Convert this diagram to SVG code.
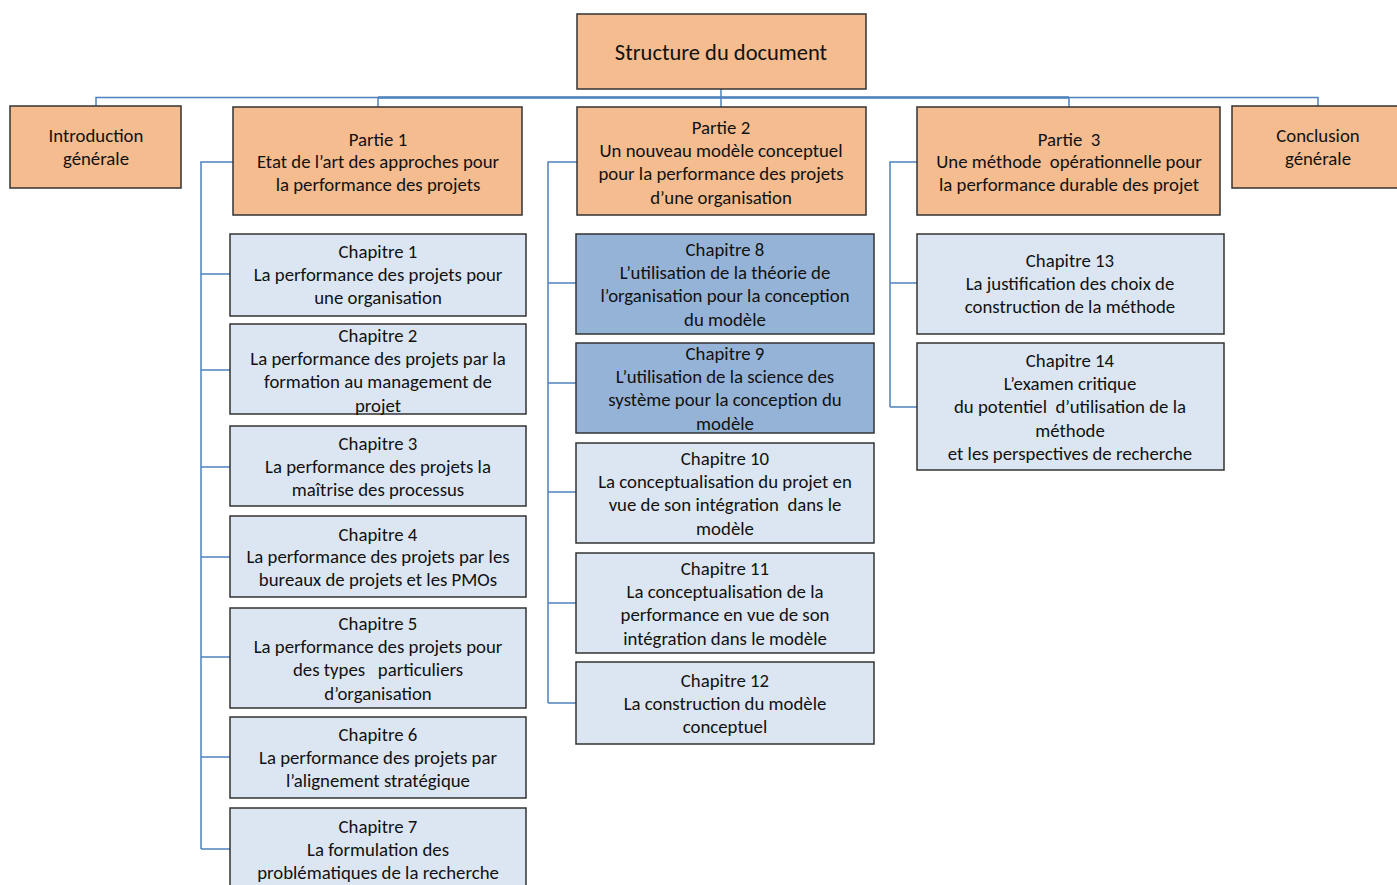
<svg xmlns="http://www.w3.org/2000/svg" width="1397" height="885" viewBox="0 0 1397 885">
<style>
.o{fill:#F4BC8F;stroke:#333;stroke-width:1.5}
.l{fill:#DCE6F2;stroke:#333;stroke-width:1.5}
.d{fill:#95B3D7;stroke:#333;stroke-width:1.5}
text{font-family:Carlito,Lato,"Liberation Sans",sans-serif;font-size:18.8px;fill:#111;text-anchor:middle;white-space:pre}
.c{fill:none;stroke:#4F81BD;stroke-width:1.5}
</style>
<rect width="1397" height="885" fill="#fff"/>
<g id="connectors">
<path class="c" d="M721,89V97.5M96,106V97.5H1318V106M378,97.5V107M721,97.5V107M1069,97.5V107"/>
<path class="c" style="stroke-width:2.5" d="M378,97.5H1069"/>
<path class="c" d="M233,162H201V849M201,274H230M201,370H230M201,467H230M201,557H230M201,657H230M201,757H230M201,849H230"/>
<path class="c" d="M577,162H548V703M548,283H576M548,383H576M548,492H576M548,603H576M548,703H576"/>
<path class="c" d="M917,162H890V407M890,283H917M890,407H917"/>
</g>
<g id="root"><rect class="o" x="577" y="14" width="289" height="75"/><text x="721" y="60" style="font-size:22.5px">Structure du document</text></g>
<g id="intro"><rect class="o" x="10" y="106" width="171" height="82"/><text x="96" y="142">Introduction</text><text x="96" y="165">générale</text></g>
<g id="partie1"><rect class="o" x="233" y="107" width="289" height="108"/><text x="378" y="146">Partie 1</text><text x="378" y="168">Etat de l’art des approches pour</text><text x="378" y="191">la performance des projets</text></g>
<g id="partie2"><rect class="o" x="577" y="107" width="289" height="108"/><text x="721" y="134">Partie 2</text><text x="721" y="157">Un nouveau modèle conceptuel</text><text x="721" y="180">pour la performance des projets</text><text x="721" y="204">d’une organisation</text></g>
<g id="partie3"><rect class="o" x="917" y="107" width="303" height="108"/><text x="1069" y="146">Partie  3</text><text x="1069" y="168">Une méthode  opérationnelle pour</text><text x="1069" y="191">la performance durable des projet</text></g>
<g id="conclusion"><rect class="o" x="1232" y="106" width="172" height="82"/><text x="1318" y="142">Conclusion</text><text x="1318" y="165">générale</text></g>
<g id="ch1"><rect class="l" x="230" y="234" width="296" height="82"/><text x="378" y="258">Chapitre 1</text><text x="378" y="281">La performance des projets pour</text><text x="378" y="304">une organisation</text></g>
<g id="ch2"><rect class="l" x="230" y="324" width="296" height="90"/><text x="378" y="342">Chapitre 2</text><text x="378" y="365">La performance des projets par la</text><text x="378" y="388">formation au management de</text><text x="378" y="412">projet</text></g>
<g id="ch3"><rect class="l" x="230" y="426" width="296" height="80"/><text x="378" y="450">Chapitre 3</text><text x="378" y="473">La performance des projets la</text><text x="378" y="496">maîtrise des processus</text></g>
<g id="ch4"><rect class="l" x="230" y="516" width="296" height="81"/><text x="378" y="541">Chapitre 4</text><text x="378" y="563">La performance des projets par les</text><text x="378" y="586">bureaux de projets et les PMOs</text></g>
<g id="ch5"><rect class="l" x="230" y="608" width="296" height="100"/><text x="378" y="630">Chapitre 5</text><text x="378" y="653">La performance des projets pour</text><text x="378" y="676">des types   particuliers</text><text x="378" y="700">d’organisation</text></g>
<g id="ch6"><rect class="l" x="230" y="717" width="296" height="81"/><text x="378" y="741">Chapitre 6</text><text x="378" y="764">La performance des projets par</text><text x="378" y="787">l’alignement stratégique</text></g>
<g id="ch7"><rect class="l" x="230" y="808" width="296" height="90"/><text x="378" y="833">Chapitre 7</text><text x="378" y="856">La formulation des</text><text x="378" y="879">problématiques de la recherche</text></g>
<g id="ch8"><rect class="d" x="576" y="234" width="298" height="100"/><text x="725" y="256">Chapitre 8</text><text x="725" y="279">L’utilisation de la théorie de</text><text x="725" y="302">l’organisation pour la conception</text><text x="725" y="326">du modèle</text></g>
<g id="ch9"><rect class="d" x="576" y="343" width="298" height="90"/><text x="725" y="360">Chapitre 9</text><text x="725" y="383">L’utilisation de la science des</text><text x="725" y="406">système pour la conception du</text><text x="725" y="430">modèle</text></g>
<g id="ch10"><rect class="l" x="576" y="443" width="298" height="100"/><text x="725" y="465">Chapitre 10</text><text x="725" y="488">La conceptualisation du projet en</text><text x="725" y="511">vue de son intégration  dans le</text><text x="725" y="535">modèle</text></g>
<g id="ch11"><rect class="l" x="576" y="553" width="298" height="100"/><text x="725" y="575">Chapitre 11</text><text x="725" y="598">La conceptualisation de la</text><text x="725" y="621">performance en vue de son</text><text x="725" y="645">intégration dans le modèle</text></g>
<g id="ch12"><rect class="l" x="576" y="662" width="298" height="82"/><text x="725" y="687">Chapitre 12</text><text x="725" y="710">La construction du modèle</text><text x="725" y="733">conceptuel</text></g>
<g id="ch13"><rect class="l" x="917" y="234" width="307" height="100"/><text x="1070" y="267">Chapitre 13</text><text x="1070" y="290">La justification des choix de</text><text x="1070" y="313">construction de la méthode</text></g>
<g id="ch14"><rect class="l" x="917" y="343" width="307" height="127"/><text x="1070" y="367">Chapitre 14</text><text x="1070" y="390">L’examen critique</text><text x="1070" y="413">du potentiel  d’utilisation de la</text><text x="1070" y="437">méthode</text><text x="1070" y="460">et les perspectives de recherche</text></g>
</svg>
